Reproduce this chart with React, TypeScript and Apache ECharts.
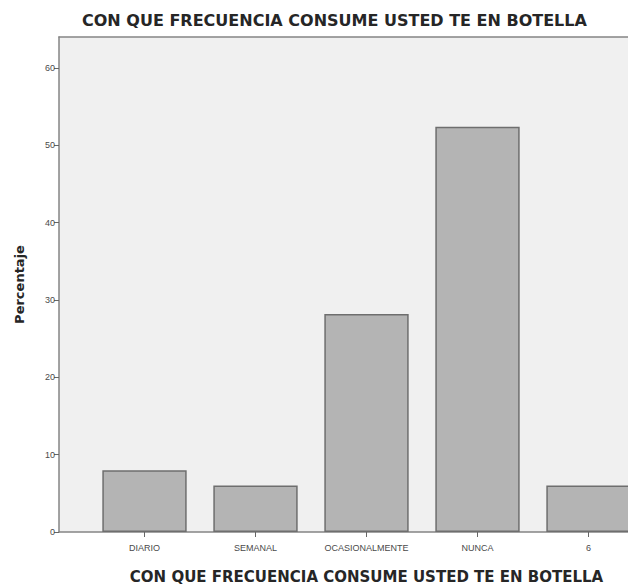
import React, { useEffect, useRef } from "react";
import * as echarts from "echarts";

const chartTitle = "CON QUE FRECUENCIA CONSUME USTED TE EN BOTELLA";
const xAxisName = "CON QUE FRECUENCIA CONSUME USTED TE EN BOTELLA";
const yAxisName = "Percentaje";
const categories = ["DIARIO", "SEMANAL", "OCASIONALMENTE", "NUNCA", "6"];
const percentages = [8, 6, 28.2, 52.4, 6];
const yTicks = [0, 10, 20, 30, 40, 50, 60];
const yMax = 64;

export default function App() {
  const ref = useRef<HTMLDivElement>(null);
  useEffect(() => {
    if (!ref.current) return;
    const chart = echarts.init(ref.current, null, { renderer: "svg" });
    const axisColor = "#858585";
    chart.setOption({
      animation: false,
      backgroundColor: "#ffffff",
      title: {
        text: chartTitle,
        left: 82,
        top: 12,
        padding: 0,
        textStyle: {
          fontFamily: "DejaVu Sans",
          fontWeight: "bold",
          fontSize: 16,
          color: "#262626",
        },
      },
      grid: [
        {
          left: 59,
          right: -60,
          top: 37,
          bottom: 54,
          show: true,
          backgroundColor: "#f0f0f0",
          borderWidth: 0,
          outerBoundsMode: "none",
        },
        {
          left: 89,
          right: -16,
          top: 37,
          bottom: 54,
          outerBoundsMode: "none",
        },
      ],
      xAxis: [
        {
          gridIndex: 0,
          type: "value",
          position: "bottom",
          min: 0,
          max: 1,
          axisLine: { show: true, lineStyle: { color: axisColor, width: 1.5 } },
          axisTick: { show: false },
          axisLabel: { show: false },
          splitLine: { show: false },
        },
        {
          gridIndex: 0,
          type: "value",
          position: "top",
          min: 0,
          max: 1,
          axisLine: { show: true, lineStyle: { color: axisColor, width: 1.5 } },
          axisTick: { show: false },
          axisLabel: { show: false },
          splitLine: { show: false },
        },
        {
          gridIndex: 1,
          type: "category",
          data: categories,
          axisLine: { show: false },
          axisTick: {
            show: true,
            alignWithLabel: true,
            length: 5,
            lineStyle: { color: "#666666", width: 1 },
          },
          axisLabel: {
            fontFamily: "Liberation Sans",
            fontSize: 9,
            color: "#4a4a4a",
            margin: 11,
            interval: 0,
          },
          name: xAxisName,
          nameLocation: "middle",
          nameGap: 37,
          nameTextStyle: {
            fontFamily: "DejaVu Sans",
            fontWeight: "bold",
            fontSize: 15,
            color: "#262626",
          },
        },
      ],
      yAxis: [
        {
          gridIndex: 0,
          type: "value",
          show: false,
          min: 0,
          max: 1,
          splitLine: { show: false },
        },
        {
          gridIndex: 1,
          type: "value",
          min: 0,
          max: yMax,
          offset: 30,
          axisLine: { show: true, lineStyle: { color: axisColor, width: 1.5 } },
          axisTick: {
            show: true,
            length: 5,
            customValues: yTicks,
            lineStyle: { color: "#666666", width: 1 },
          },
          axisLabel: {
            customValues: yTicks,
            fontFamily: "Liberation Sans",
            fontSize: 9,
            color: "#4a4a4a",
            margin: 4,
          },
          splitLine: { show: false },
          name: yAxisName,
          nameLocation: "middle",
          nameGap: 33,
          nameTextStyle: {
            fontFamily: "DejaVu Sans",
            fontWeight: "bold",
            fontSize: 13,
            color: "#262626",
          },
        },
      ],
      series: [
        {
          type: "bar",
          xAxisIndex: 2,
          yAxisIndex: 1,
          data: percentages,
          barWidth: "76%",
          itemStyle: {
            color: "#b4b4b4",
            borderColor: "#6e6e6e",
            borderWidth: 1.5,
          },
        },
      ],
    });
    return () => chart.dispose();
  }, []);
  return (
    <div
      ref={ref}
      style={{ position: "fixed", left: 0, top: 0, width: 628, height: 586 }}
    />
  );
}
